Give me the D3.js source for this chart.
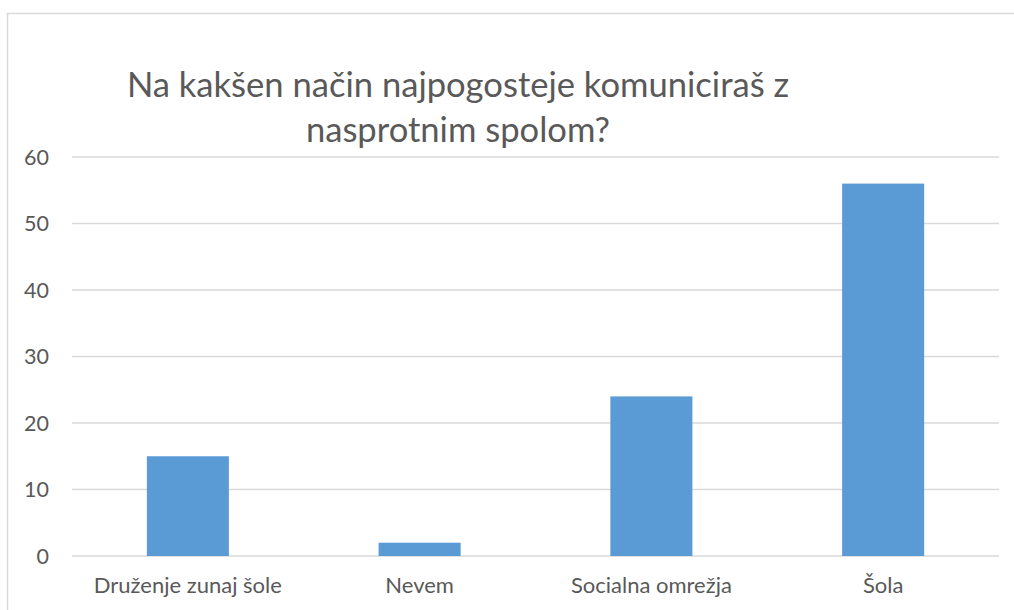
<!DOCTYPE html>
<html><head><meta charset="utf-8">
<script src="https://cdn.jsdelivr.net/npm/d3@7"></script>
<style>body{margin:0;background:#fff;} svg{display:block;}</style>
</head><body>
<svg id="c" width="1014" height="610"></svg>
<script>
const categories = ["Druženje zunaj šole", "Nevem", "Socialna omrežja", "Šola"];
const values = [15, 2, 24, 56];
const yTicks = [0, 10, 20, 30, 40, 50, 60];
const titleLines = ["Na kakšen način najpogosteje komuniciraš z", "nasprotnim spolom?"];

const svg = d3.select("#c");
const font = "Lato, 'Open Sans', sans-serif";
const textColor = "#595959";

// chart border
svg.append("rect").attr("x", 7.5).attr("y", 13.5).attr("width", 1020).attr("height", 610)
  .attr("fill", "#fff").attr("stroke", "#d9d9d9").attr("stroke-width", 1.5);

const x = d3.scaleBand().domain(categories).range([72, 999]).padding(0);
const y = d3.scaleLinear().domain([0, 60]).range([556, 157]);

// gridlines
svg.append("g").selectAll("line").data(yTicks).join("line")
  .attr("x1", 72).attr("x2", 999)
  .attr("y1", d => y(d)).attr("y2", d => y(d))
  .attr("stroke", "#d9d9d9").attr("stroke-width", 1.5);

// y tick labels
svg.append("g").selectAll("text").data(yTicks).join("text")
  .attr("x", 49).attr("y", d => y(d)).attr("dy", "0.35em")
  .attr("text-anchor", "end").attr("fill", textColor)
  .style("font-family", font).style("font-size", "21.5px")
  .text(d => d);

// bars
const bw = x.bandwidth() * 0.354;
svg.append("g").selectAll("rect").data(values).join("rect")
  .attr("x", (d, i) => x(categories[i]) + x.bandwidth() / 2 - bw / 2)
  .attr("width", bw)
  .attr("y", d => y(d))
  .attr("height", d => y(0) - y(d))
  .attr("fill", "#5b9bd5");

// category labels
svg.append("g").selectAll("text").data(categories).join("text")
  .attr("x", d => x(d) + x.bandwidth() / 2).attr("y", 593)
  .attr("text-anchor", "middle").attr("fill", textColor)
  .style("font-family", font).style("font-size", "22px")
  .text(d => d);

// title
svg.append("g").selectAll("text").data(titleLines).join("text")
  .attr("x", 458).attr("y", (d, i) => 97 + i * 45)
  .attr("text-anchor", "middle").attr("fill", textColor)
  .style("font-family", font).style("font-size", "34.6px")
  .text(d => d);
</script>
</body></html>
